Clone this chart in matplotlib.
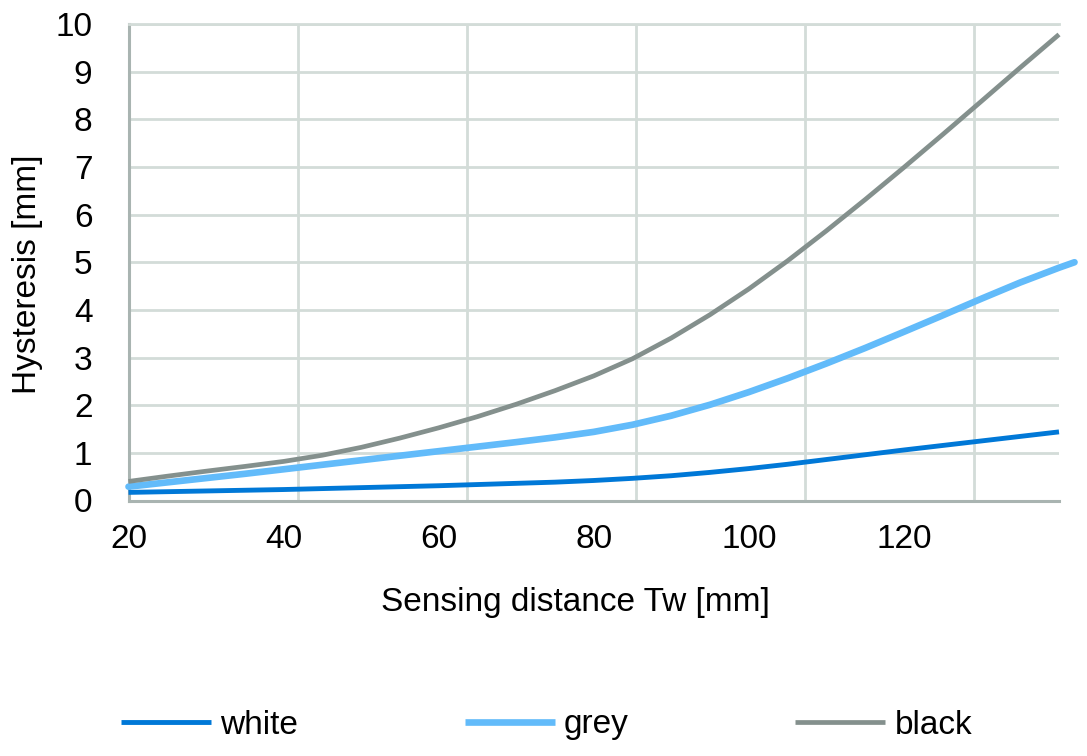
import matplotlib
matplotlib.use("Agg")
import matplotlib.pyplot as plt

# ---- data ----
distance = [20, 25, 30, 35, 40, 45, 50, 55, 60, 65, 70, 75, 80, 85, 90, 95,
            100, 105, 110, 115, 120, 125, 130, 135, 140]
white = [0.17, 0.185, 0.20, 0.215, 0.23, 0.25, 0.27, 0.29, 0.31, 0.335, 0.36,
         0.385, 0.42, 0.465, 0.52, 0.59, 0.67, 0.76, 0.86, 0.96, 1.06, 1.155,
         1.25, 1.345, 1.44]
distance_grey = distance + [142]
grey = [0.29, 0.38, 0.47, 0.56, 0.655, 0.75, 0.845, 0.94, 1.035, 1.13, 1.225,
        1.325, 1.44, 1.59, 1.78, 2.01, 2.275, 2.565, 2.875, 3.20, 3.54, 3.885,
        4.235, 4.575, 4.885, 5.0]
black = [0.40, 0.51, 0.615, 0.715, 0.82, 0.95, 1.115, 1.31, 1.525, 1.76, 2.02,
         2.305, 2.615, 2.975, 3.41, 3.90, 4.44, 5.03, 5.66, 6.315, 6.99, 7.68,
         8.38, 9.085, 9.78]

x_ticks = [20, 40, 60, 80, 100, 120]
x_grid = [20 + k * 120 / 5.5 for k in range(6)]
y_ticks = list(range(0, 11))

series_names = ["white", "grey", "black"]
colors = {"white": "#0078D7", "grey": "#62BBFA", "black": "#84908D"}

plt.rcParams["font.family"] = ["Liberation Sans", "DejaVu Sans"]

W, H = 1087, 756
fig = plt.figure(figsize=(W / 100, H / 100), dpi=100)
ax = fig.add_axes([128.5 / W, 1 - 500.5 / H, (1059 - 128.5) / W, (500.5 - 24) / H])

grid_c = "#D3DCD8"
axis_c = "#A9B4B1"

ax.set_xlim(20, 140)
ax.set_ylim(0, 10)
ax.set_xticks(x_ticks)
ax.set_xticks(x_grid, minor=True)
ax.set_yticks(y_ticks)
ax.tick_params(axis="both", which="both", length=0)
ax.tick_params(axis="x", labelsize=24, pad=17)
ax.tick_params(axis="y", labelsize=24, pad=26)
ax.grid(True, axis="y", which="major", color=grid_c, linewidth=2.0)
ax.grid(True, axis="x", which="minor", color=grid_c, linewidth=2.0)
ax.grid(False, axis="x", which="major")
ax.set_axisbelow(True)

ax.spines["right"].set_visible(False)
ax.spines["top"].set_color(grid_c)
ax.spines["top"].set_linewidth(2.0)
ax.spines["left"].set_color(axis_c)
ax.spines["left"].set_linewidth(2.2)
ax.spines["bottom"].set_color(axis_c)
ax.spines["bottom"].set_linewidth(2.2)

l1, = ax.plot(distance, white, color=colors["white"], lw=3.5,
              solid_capstyle="butt", solid_joinstyle="round", clip_on=False,
              label="white", zorder=3)
l2, = ax.plot(distance_grey, grey, color=colors["grey"], lw=4.8,
              solid_capstyle="round", solid_joinstyle="round", clip_on=False,
              label="grey", zorder=4)
l3, = ax.plot(distance, black, color=colors["black"], lw=3.4,
              solid_capstyle="butt", solid_joinstyle="round", clip_on=False,
              label="black", zorder=5)

fig.text(575 / W, 1 - 603 / H, "Sensing distance Tw [mm]", fontsize=24,
         ha="center", va="center")
fig.text(28 / W, 1 - 274 / H, "Hysteresis [mm]", fontsize=24,
         ha="center", va="center", rotation=90)

leg = fig.legend(handles=[l1, l2, l3], labels=series_names, ncol=3,
                 loc="center", bbox_to_anchor=(546.5 / W, 1 - 725 / H),
                 frameon=False, fontsize=24, handlelength=2.7,
                 handletextpad=0.28, columnspacing=5.0, borderpad=0,
                 borderaxespad=0)
for h in leg.legend_handles:
    h.set_solid_capstyle("butt")

fig.savefig("out.png", dpi=100)
